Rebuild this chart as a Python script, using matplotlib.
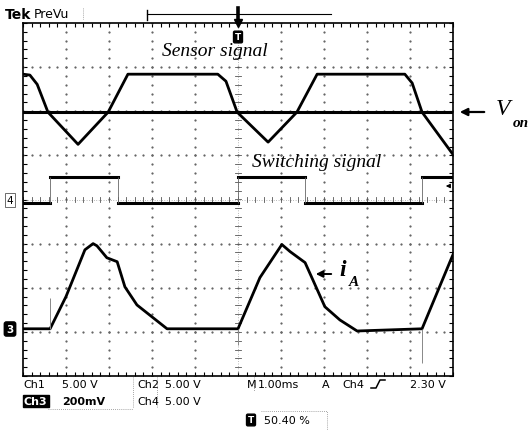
import numpy as np
import matplotlib.pyplot as plt
from matplotlib.ticker import MultipleLocator

# time in ms (1 ms/div), amplitudes in screen divisions (0 = centre line)
sensor_t = [0.0, 0.16, 0.33, 0.58, 1.28, 1.98, 2.44, 4.53, 4.72, 4.98,
            5.70, 6.37, 6.84, 8.88, 9.05, 9.28, 10.0]
sensor_v = [2.84, 2.82, 2.61, 1.98, 1.25, 1.98, 2.84, 2.84, 2.68, 1.98,
            1.30, 1.98, 2.84, 2.84, 2.64, 1.98, 1.02]

von_level = 1.98

sw_edges = [0.0, 0.63, 2.21, 5.00, 6.56, 9.28, 10.0]
sw_levels = [-0.07, 0.50, -0.09, 0.50, -0.07, 0.50]

ia_t = [0.0, 0.63, 1.00, 1.44, 1.63, 1.72, 1.95, 2.19, 2.37, 2.65, 3.00, 3.35,
        5.00, 5.51, 6.02, 6.21, 6.56, 6.74, 7.02, 7.37, 7.77, 9.28, 9.93, 10.0]
ia_v = [-2.93, -2.93, -2.20, -1.14, -1.00, -1.05, -1.32, -1.41, -1.98, -2.39, -2.66, -2.93,
        -2.93, -1.77, -1.02, -1.18, -1.43, -1.82, -2.43, -2.73, -2.98, -2.93, -1.41, -1.25]

# faint persistence streaks below some edges
ghost_t = [0.63, 5.00, 9.28]
ghost_lo = [-2.93, -3.29, -3.70]
ghost_hi = [-2.23, -2.93, -2.93]

fig = plt.figure(figsize=(5.29, 4.31), dpi=100)
W, H = 529, 431
ax = fig.add_axes([23 / W, 54 / H, 430 / W, 353 / H])
ax.set_xlim(0, 10)
ax.set_ylim(-4, 4)

# graticule
ax.xaxis.set_major_locator(MultipleLocator(1))
ax.yaxis.set_major_locator(MultipleLocator(1))
ax.xaxis.set_minor_locator(MultipleLocator(0.2))
ax.yaxis.set_minor_locator(MultipleLocator(0.2))
ax.tick_params(which='both', direction='in', top=True, right=True,
               labelbottom=False, labelleft=False, length=3, width=0.8)
for s in ax.spines.values():
    s.set_linewidth(1.2)

minor = np.arange(-4, 4.001, 0.2)
minor_x = np.arange(0, 10.001, 0.2)
for gx in range(1, 10):
    if gx == 5:
        continue
    ax.plot(np.full_like(minor, gx), minor, ls='none', marker='s', ms=0.6, color='#666')
for gy in [-3, -2, -1, 1, 2, 3]:
    ax.plot(minor_x, np.full_like(minor_x, gy), ls='none', marker='s', ms=0.6, color='#666')
# centre crosshair with small ticks
ax.axvline(5, color='#777', lw=0.5, ls=(0, (1, 2.5)))
ax.axhline(0, color='#777', lw=0.5, ls=(0, (1, 2.5)))
for v in minor:
    ax.plot([4.94, 5.06], [v, v], color='#555', lw=0.6)
for v in minor_x:
    ax.plot([v, v], [-0.06, 0.06], color='#555', lw=0.6)

# traces
ax.plot(sensor_t, sensor_v, color='black', lw=2.0, solid_joinstyle='round')
ax.axhline(von_level, color='black', lw=2.2)
for i, lev in enumerate(sw_levels):
    ax.plot([sw_edges[i], sw_edges[i + 1]], [lev, lev], color='black', lw=2.2)
ax.vlines(sw_edges[1:-1], -0.08, 0.5, color='#666', lw=0.6)
ax.plot(ia_t, ia_v, color='black', lw=2.0, solid_joinstyle='round')
ax.vlines(ghost_t, ghost_lo, ghost_hi, color='#888', lw=0.7)

# overlay in pixel coordinates for the scope readouts and labels
ov = fig.add_axes([0, 0, 1, 1])
ov.set_xlim(0, W)
ov.set_ylim(H, 0)
ov.axis('off')

sans = 'DejaVu Sans'
serif = 'Liberation Serif'
ov.text(5, 15, 'Tek', fontsize=10, fontweight='bold', family=sans, va='center')
ov.text(34, 14, 'PreVu', fontsize=9, family=sans, va='center')
ov.plot([83, 83], [9, 20], color='#888', lw=0.6, ls=(0, (1, 1.5)))
ov.plot([147, 331], [15, 15], color='black', lw=0.8)
ov.plot([147, 147], [11, 21], color='black', lw=1.0)
ov.plot([238, 238], [9, 21], color='black', lw=2.6)
ov.plot([238], [24], marker='v', ms=6, color='black')
ov.text(238, 38, 'T', fontsize=6.5, fontweight='bold', color='white', ha='center', va='center',
        family=sans, bbox=dict(boxstyle='round,pad=0.15', fc='black', ec='black'))

ov.text(162, 52, 'Sensor signal', fontsize=14, style='italic', family=serif, va='center')
ov.text(252, 163, 'Switching signal', fontsize=14, style='italic', family=serif, va='center')

ov.annotate('', xy=(457, 113), xytext=(487, 113),
            arrowprops=dict(arrowstyle='-|>', lw=1.6, color='black', mutation_scale=11))
ov.text(496, 110, 'V', fontsize=17, style='italic', family=serif, va='center')
ov.text(513, 124, 'on', fontsize=11, style='italic', fontweight='bold', family=serif, va='center')

ov.annotate('', xy=(313, 275), xytext=(334, 275),
            arrowprops=dict(arrowstyle='-|>', lw=1.4, color='black', mutation_scale=10))
ov.text(339, 271, 'i', fontsize=17, style='italic', fontweight='bold', family=serif, va='center')
ov.text(349, 283, 'A', fontsize=11, style='italic', fontweight='bold', family=serif, va='center')

ov.annotate('', xy=(443, 187), xytext=(452, 187),
            arrowprops=dict(arrowstyle='-|>', lw=0.8, color='black', mutation_scale=6))

# channel ground markers
ov.text(10, 201, '4', fontsize=7.5, family=sans, ha='center', va='center',
        bbox=dict(boxstyle='square,pad=0.15', fc='white', ec='#555', lw=0.6))
ov.text(10, 330, '3', fontsize=7.5, fontweight='bold', color='white', family=sans,
        ha='center', va='center', bbox=dict(boxstyle='round,pad=0.2', fc='black', ec='black'))

# readout rows
fs = 8
r1, r2 = 385, 402
ov.text(23, r1, 'Ch1', fontsize=fs, family=sans, va='center')
ov.text(62, r1, '5.00 V', fontsize=fs, family=sans, va='center')
ov.text(137, r1, 'Ch2', fontsize=fs, family=sans, va='center')
ov.text(165, r1, '5.00 V', fontsize=fs, family=sans, va='center')
ov.text(247, r1, 'M', fontsize=fs, family=sans, va='center')
ov.text(258, r1, '1.00ms', fontsize=fs, family=sans, va='center')
ov.text(322, r1, 'A', fontsize=fs, family=sans, va='center')
ov.text(342, r1, 'Ch4', fontsize=fs, family=sans, va='center')
ov.plot([371, 376, 380, 385], [389, 389, 381, 381], color='black', lw=1.1)
ov.text(410, r1, '2.30 V', fontsize=fs, family=sans, va='center')

ov.text(24, r2, 'Ch3', fontsize=fs, fontweight='bold', color='white', family=sans, va='center',
        bbox=dict(boxstyle='square,pad=0.1', fc='black', ec='black'))
ov.text(62, r2, '200mV', fontsize=fs, fontweight='bold', family=sans, va='center')
ov.text(137, r2, 'Ch4', fontsize=fs, family=sans, va='center')
ov.text(165, r2, '5.00 V', fontsize=fs, family=sans, va='center')

dot = dict(color='#888', lw=0.6, ls=(0, (1, 1.5)))
ov.plot([133, 133], [378, 409], **dot)
ov.plot([157, 157], [378, 409], **dot)
ov.plot([254, 254], [378, 392], **dot)
ov.plot([48, 133], [410, 410], **dot)

ov.text(251, 421, 'T', fontsize=6.5, fontweight='bold', color='white', ha='center', va='center',
        family=sans, bbox=dict(boxstyle='round,pad=0.15', fc='black', ec='black'))
ov.text(264, 421, '50.40 %', fontsize=fs, family=sans, va='center')
ov.plot([261, 327, 327], [412, 412, 431], **dot)

fig.savefig('out.png', dpi=100, facecolor='white')
